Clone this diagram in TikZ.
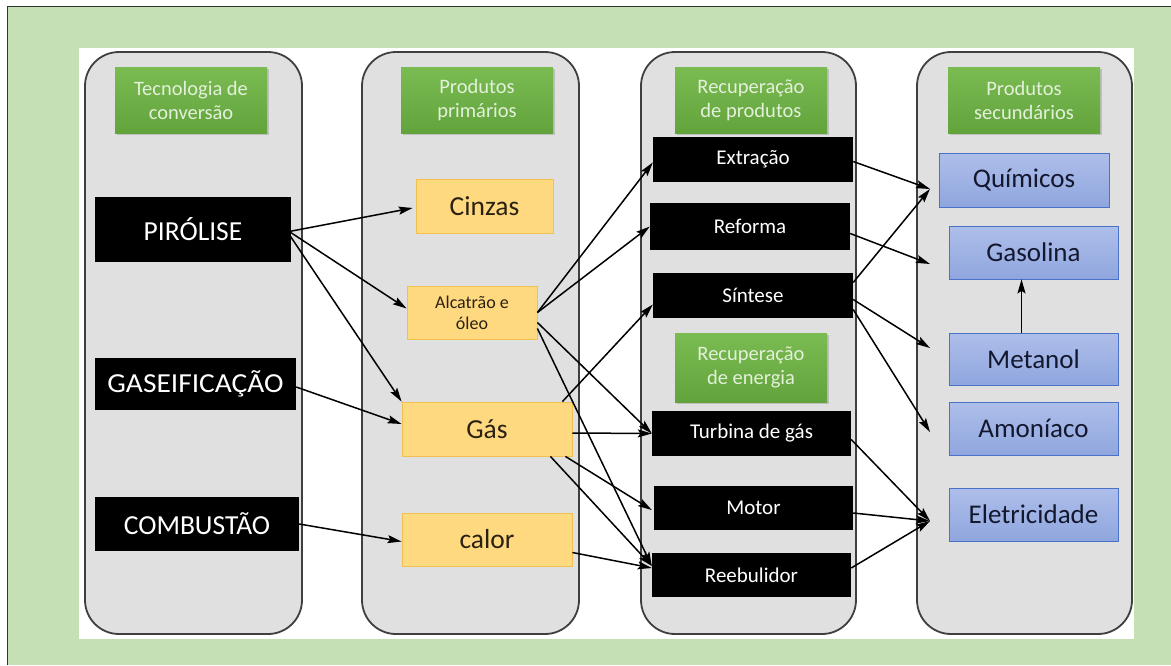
\documentclass[tikz,border=0pt]{standalone}
\usepackage{fontspec}
\setmainfont{Carlito}
\usetikzlibrary{arrows.meta,calc,shadows}
\definecolor{bggreen}{HTML}{C5E0B4}
\definecolor{colfill}{HTML}{E0E0E0}
\definecolor{colborder}{HTML}{3F3F3F}
\definecolor{hdrtop}{HTML}{7ABB52}
\definecolor{hdrbot}{HTML}{62A33C}
\definecolor{hdrtext}{HTML}{E3F0DA}
\definecolor{orgfill}{HTML}{FFD97F}
\definecolor{orgdraw}{HTML}{F2C04C}
\definecolor{orgtext}{HTML}{2B2112}
\definecolor{bluetop}{HTML}{AEBEEA}
\definecolor{bluebot}{HTML}{8FA6DE}
\definecolor{bluedraw}{HTML}{4A72C8}
\definecolor{bluetext}{HTML}{14182E}
\begin{document}
\begin{tikzpicture}[x=1pt,y=-1pt,
  col/.style={draw=colborder, line width=1.8pt, fill=colfill, rounded corners=34pt},
  hdr/.style={top color=hdrtop, bottom color=hdrbot, draw=none, text=hdrtext, align=center,
    font=\fontsize{20.5}{24}\selectfont, minimum width=152pt, minimum height=66pt, inner sep=2pt,
    drop shadow={opacity=0.35, shadow xshift=1.5pt, shadow yshift=-2pt}},
  blk/.style={fill=black, text=white, inner sep=2pt},
  big/.style={font=\fontsize{27.5}{31}\selectfont},
  mid/.style={font=\fontsize{21}{24}\selectfont},
  org/.style={fill=orgfill, draw=orgdraw, line width=0.8pt, text=orgtext, align=center, inner sep=2pt},
  blu/.style={top color=bluetop, bottom color=bluebot, draw=bluedraw, line width=0.8pt,
    text=bluetext, font=\fontsize{27}{31}\selectfont, inner sep=2pt},
  arr/.style={-{Stealth[length=14pt,width=8pt,inset=2.5pt]}, line width=1.5pt},
  sz/.style 2 args={minimum width=#1pt, minimum height=#2pt}
]
\useasboundingbox (0,0) rectangle (1171,665);
\fill[white] (0,0) rectangle (1171,665);
\fill[bggreen] (7,6) rectangle (1171,665);
\draw[line width=1pt, black!80] (7,665) -- (7,6) -- (1171,6);
\fill[white] (79,48) rectangle (1134,639);

% columns
\draw[col] (85,52) rectangle (302,634);
\draw[col] (362,52) rectangle (579,634);
\draw[col] (641,52) rectangle (856,634);
\draw[col] (917,52) rectangle (1132,634);

% headers
\node[hdr] (h1) at (191,100) {Tecnologia de\\conversão};
\node[hdr] (h2) at (477,100) {Produtos\\primários};
\node[hdr] (h3) at (751,100) {Recuperação\\de produtos};
\node[hdr] (h4) at (1024,100) {Produtos\\secundários};
\node[hdr, sz={152}{69}] (h5) at (751,367.5) {Recuperação\\de energia};

% column 1
\node[blk,big,sz={196}{65}] (pir) at (193,229.5) {PIRÓLISE};
\node[blk,big,sz={201}{52}] (gsf) at (195.5,384) {\scalebox{1.07}[1]{GASEIFICAÇÃO}};
\node[blk,big,sz={204}{54}] (cmb) at (197,524) {COMBUSTÃO};

% column 2
\node[org,big,sz={137}{54}] (cin) at (484.5,206) {Cinzas};
\node[org,sz={130}{53},font=\fontsize{18}{21}\selectfont] (alc) at (472,312.5) {Alcatrão e\\óleo};
\node[org,big,sz={170}{54}] (gas) at (487,429) {Gás};
\node[org,big,sz={170}{53}] (cal) at (487,539.5) {calor};

% column 3
\node[blk,mid,sz={200}{45}] (ext) at (753,159.5) {Extração};
\node[blk,mid,sz={200}{47}] (ref) at (750,226.5) {Reforma};
\node[blk,mid,sz={200}{45}] (sin) at (753,295.5) {Síntese};
\node[blk,mid,sz={199}{45}] (tur) at (751.5,433.5) {Turbina de gás};
\node[blk,mid,sz={199}{44}] (mot) at (753.5,508) {Motor};
\node[blk,mid,sz={199}{44}] (reb) at (751.5,575) {Reebulidor};

% column 4
\node[blu,sz={170}{54}] (qui) at (1024,180) {Químicos};
\node[blu,sz={169}{53}] (gsl) at (1033.5,252.5) {Gasolina};
\node[blu,sz={169}{52}] (met) at (1033.5,359) {Metanol};
\node[blu,sz={169}{53}] (amo) at (1033.5,428.5) {Amoníaco};
\node[blu,sz={169}{53}] (ele) at (1033.5,514.5) {Eletricidade};

% free arrow ends
\coordinate (tq) at (930,189);
\coordinate (tg) at (930,264);
\coordinate (tm) at (930,348);
\coordinate (ta) at (930,432);
\coordinate (te) at (930,521);

% arrows col1 -> col2
\draw[arr] ($(pir.east)+(-2,2)$) -- ($(cin.west)+(-3,2)$);
\draw[arr] ($(pir.east)+(-2,2)$) -- ($(alc.west)+(0,-4)$);
\draw[arr] ($(pir.east)+(-2,5)$) -- (gas.north west);
\draw[arr] ($(gsf.east)+(0,3)$) -- ($(gas.west)+(0,-5)$);
\draw[arr] (cmb.east) -- ($(cal.west)+(0,2)$);

% arrows col2 -> col3
\draw[arr] (alc.east) -- ($(ext.west)+(0,3)$);
\draw[arr] (alc.east) -- (ref.west);
\draw[arr] ($(alc.east)+(0,10)$) -- (tur.west);
\draw[arr] ($(alc.east)+(0,16)$) -- ($(reb.west)+(0,-9)$);
\draw[arr] ($(gas.north east)+(-10,0)$) -- ($(sin.west)+(0,9)$);
\draw[arr] ($(gas.east)+(0,4)$) -- (tur.west);
\draw[arr] ($(gas.south east)+(-7,0)$) -- ($(mot.west)+(-2,2)$);
\draw[arr] ($(gas.south east)+(-22,0)$) -- ($(reb.west)+(0,-9)$);
\draw[arr] ($(cal.east)+(0,13)$) -- ($(reb.west)+(0,-7)$);

% arrows col3 -> col4
\draw[arr] ($(ext.east)+(0,2)$) -- (tq);
\draw[arr] ($(ref.east)+(0,7)$) -- (tg);
\draw[arr] ($(sin.east)+(0,-13)$) -- (tq);
\draw[arr] ($(sin.east)+(0,4)$) -- (tm);
\draw[arr] ($(sin.east)+(0,14)$) -- (ta);
\draw[arr] ($(tur.east)+(0,6)$) -- (te);
\draw[arr] ($(mot.east)+(0,5)$) -- (te);
\draw[arr] ($(reb.east)+(0,-7)$) -- (te);
\draw[arr] ([xshift=-12pt]met.north) -- ([xshift=-12pt]gsl.south);
\end{tikzpicture}
\end{document}
